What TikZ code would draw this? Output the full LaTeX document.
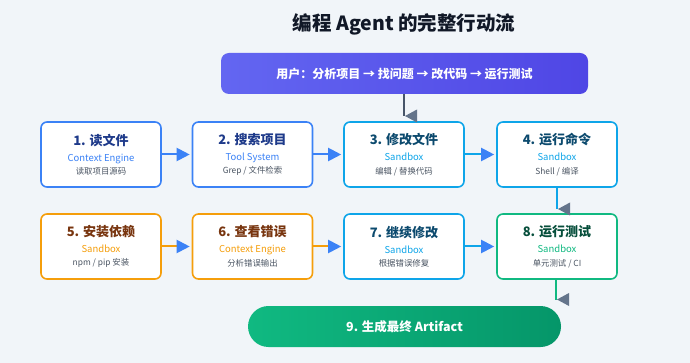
\documentclass[tikz,border=0pt]{standalone}
\usepackage{fontspec}
\setmainfont{Noto Sans CJK SC}
\usepackage{tikz}
\usetikzlibrary{arrows.meta,positioning}
\definecolor{bg}{HTML}{F1F5F9}
\definecolor{cblue}{HTML}{3B82F6}
\definecolor{csky}{HTML}{0EA5E9}
\definecolor{camber}{HTML}{F59E0B}
\definecolor{cgreen}{HTML}{10B981}
\definecolor{tnavy}{HTML}{1E3A8A}
\definecolor{tsky}{HTML}{0C4A6E}
\definecolor{tbrown}{HTML}{78350F}
\definecolor{tgreen}{HTML}{064E3B}
\definecolor{txt}{HTML}{4B5563}
\definecolor{ink}{HTML}{111827}
\definecolor{slate}{HTML}{475569}
\definecolor{tipgray}{HTML}{64748B}
\definecolor{uleft}{HTML}{6366F1}
\definecolor{uright}{HTML}{4F46E5}
\definecolor{gleft}{HTML}{10B981}
\definecolor{gright}{HTML}{059669}
\newcommand{\card}[5]{{\fontsize{13}{13.5}\selectfont\bfseries\color{#1}#3}\\[2.5pt]{\fontsize{9.5}{13.5}\selectfont\color{#2}#4}\\{\color{txt}#5}}
\tikzset{
  ttl/.style={font=\fontsize{19.5}{21}\selectfont\bfseries, text=ink},
  bar/.style={rounded corners=#1, minimum height=41pt, text=white, inner sep=0pt},
  stepbox/.style={draw=#1, line width=1.6pt, fill=white, rounded corners=6pt, minimum width=120pt, minimum height=65pt, align=center, inner sep=0pt, font=\fontsize{8.4}{13.5}\selectfont},
  flow/.style={line width=2pt, draw=#1, -{Triangle[length=13pt,width=13pt,color=cblue]}, shorten >=2pt},
  drop/.style={line width=1.6pt, draw=#1},
  gtip/.style={fill=tipgray}
}

\begin{document}
\begin{tikzpicture}[x=1pt,y=-1pt]
\useasboundingbox[fill=bg] (0,0) rectangle (690,363);
\node[ttl] (title) at (404,24) {编程 Agent 的完整行动流};
\node[bar=8pt, minimum width=367pt, left color=uleft, right color=uright, font=\fontsize{12}{14}\selectfont\bfseries] (user) at (404.5,73.5) {用户：分析项目 → 找问题 → 改代码 → 运行测试};
\node[stepbox=cblue] (s1) at (101,154.5) {\card{tnavy}{cblue}{1. 读文件}{Context Engine}{读取项目源码}};
\node[stepbox=cblue] (s2) at (252.5,154.5) {\card{tnavy}{cblue}{2. 搜索项目}{Tool System}{Grep / 文件检索}};
\node[stepbox=csky] (s3) at (404,154.5) {\card{tsky}{csky}{3. 修改文件}{Sandbox}{编辑 / 替换代码}};
\node[stepbox=csky] (s4) at (557,154.5) {\card{tsky}{csky}{4. 运行命令}{Sandbox}{Shell / 编译}};
\node[stepbox=camber] (s5) at (101,246.5) {\card{tbrown}{camber}{5. 安装依赖}{Sandbox}{npm / pip 安装}};
\node[stepbox=camber] (s6) at (252.5,246.5) {\card{tbrown}{camber}{6. 查看错误}{Context Engine}{分析错误输出}};
\node[stepbox=csky] (s7) at (404,246.5) {\card{tsky}{csky}{7. 继续修改}{Sandbox}{根据错误修复}};
\node[stepbox=cgreen] (s8) at (557,246.5) {\card{tgreen}{cgreen}{8. 运行测试}{Sandbox}{单元测试 / CI}};
\node[bar=20.5pt, minimum width=313pt, left color=gleft, right color=gright, font=\fontsize{12.5}{14}\selectfont\bfseries] (done) at (404.5,326.5) {9. 生成最终 Artifact};
\draw[flow=cblue] (s1) -- (s2);
\draw[flow=cblue] (s2) -- (s3);
\draw[flow=csky] (s3) -- (s4);
\draw[flow=camber] (s5) -- (s6);
\draw[flow=camber] (s6) -- (s7);
\draw[flow=csky] (s7) -- (s8);
\coordinate (e1) at (404,116);
\coordinate (e2) at (557,209);
\coordinate (e3) at (556,299.5);
\draw[drop=slate] (user.south -| e1) -- (e1);
\draw[drop=csky] (s4.south) -- (e2);
\draw[drop=cgreen] (s8.south -| e3) -- (e3);
\foreach \e in {e1,e2,e3}
  \fill[gtip] (\e) ++(1,0) -- ++(12,-6.5) -- ++(0,13) -- cycle;
\end{tikzpicture}
\end{document}
